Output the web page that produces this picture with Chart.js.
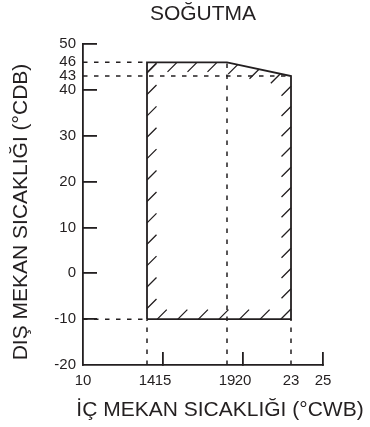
<!DOCTYPE html>
<html>
<head>
<meta charset="utf-8">
<script src="https://cdn.jsdelivr.net/npm/chart.js@4"></script>
<style>
  html, body { margin: 0; padding: 0; background: #fff; }
  canvas { display: block; }
</style>
</head>
<body>
<canvas id="chart" width="370" height="427"></canvas>
<script>
// operating range outline (indoor °CWB, outdoor °CDB), closed polygon
const coolIndoor = [14, 14, 19, 23, 23, 14];
const coolOutdoor = [-10, 46, 46, 43, -10, -10];

// dashed guide lines
const guideHorizontal = [
    { y: 46, from: 10, to: 14 },
    { y: 43, from: 10, to: 23 },
    { y: -10, from: 10, to: 14 },
];
const guideVertical = [
    { x: 14, from: -20, to: -10 },
    { x: 19, from: -20, to: 46 },
    { x: 23, from: -20, to: -10 },
];

const xTicks = [10, 14, 15, 19, 20, 23, 25];
const yTicks = [-20, -10, 0, 10, 20, 30, 40, 43, 46, 50];
const xTickMarks = [15, 20, 25];
const yTickMarks = [-10, 0, 10, 20, 30, 40, 50];

const titleText = "SOĞUTMA";
const xTitleText = "İÇ MEKAN SICAKLIĞI (°CWB)";
const yTitleText = "DIŞ MEKAN SICAKLIĞI (°CDB)";

const ink = "#231f20";
const fontFamily = "'Liberation Sans', Arial, sans-serif";
const HATCH_GAP = 21;
const HATCH_LEN = 9.5;

const guideDatasets = [
    ...guideHorizontal.map((g) => ({
        data: [{ x: g.from, y: g.y }, { x: g.to, y: g.y }],
    })),
    ...guideVertical.map((g) => ({
        data: [{ x: g.x, y: g.from }, { x: g.x, y: g.to }],
    })),
].map((d) => ({
    ...d,
    showLine: true,
    borderColor: ink,
    borderWidth: 1.5,
    borderDash: [4.5, 6.5],
    pointRadius: 0,
    order: 2,
}));

// short diagonal strokes along the inside of the outline
const hatchPlugin = {
    id: "hatch",
    afterDatasetsDraw(chart) {
        const { ctx, scales: { x, y } } = chart;
        const pts = coolIndoor.map((v, i) => ({
            px: x.getPixelForValue(v),
            py: y.getPixelForValue(coolOutdoor[i]),
        }));
        const inner = pts.slice(0, -1);
        const cx = inner.reduce((s, p) => s + p.px, 0) / inner.length;
        const cy = inner.reduce((s, p) => s + p.py, 0) / inner.length;

        ctx.save();
        ctx.strokeStyle = ink;
        ctx.lineWidth = 1.3;
        ctx.beginPath();
        for (let i = 0; i < pts.length - 1; i++) {
            const a = pts[i], b = pts[i + 1];
            const dx = b.px - a.px, dy = b.py - a.py;
            const len = Math.hypot(dx, dy);
            const n = Math.max(1, Math.round(len / HATCH_GAP));
            let nx = -dy / len, ny = dx / len;
            const mx = (a.px + b.px) / 2, my = (a.py + b.py) / 2;
            if ((cx - mx) * nx + (cy - my) * ny < 0) {
                nx = -nx;
                ny = -ny;
            }
            const s = nx - ny > 0 ? 1 : -1;
            for (let k = 0; k < n; k++) {
                const t = (k + 0.5) / n;
                const px = a.px + dx * t, py = a.py + dy * t;
                ctx.moveTo(px, py);
                ctx.lineTo(px + s * HATCH_LEN, py - s * HATCH_LEN);
            }
        }
        ctx.stroke();
        ctx.restore();
    },
};

// axis titles, placed like the original drawing
const axisTitlePlugin = {
    id: "axisTitles",
    afterDraw(chart) {
        const { ctx } = chart;
        ctx.save();
        ctx.fillStyle = ink;
        ctx.font = "21px " + fontFamily;
        ctx.textAlign = "center";
        ctx.textBaseline = "middle";
        ctx.fillText(xTitleText, 220, 410);
        ctx.translate(21, 212);
        ctx.rotate(-Math.PI / 2);
        ctx.fillText(yTitleText, 0, 0);
        ctx.restore();
    },
};

const tickColor = (marks) => (c) =>
    c.tick && marks.includes(c.tick.value) ? ink : "rgba(0,0,0,0)";

new Chart(document.getElementById("chart"), {
    type: "scatter",
    data: {
        datasets: [
            {
                data: coolIndoor.map((v, i) => ({ x: v, y: coolOutdoor[i] })),
                showLine: true,
                borderColor: ink,
                borderWidth: 1.8,
                pointRadius: 0,
                order: 1,
            },
            ...guideDatasets,
        ],
    },
    options: {
        responsive: false,
        animation: false,
        layout: {
            padding: { left: 0, right: 47, top: 0, bottom: 0 },
        },
        scales: {
            x: {
                type: "linear",
                min: 10,
                max: 25,
                afterBuildTicks: (scale) => {
                    scale.ticks = xTicks.map((v) => ({ value: v }));
                },
                afterFit: (scale) => {
                    scale.height = 62;
                },
                border: { color: ink, width: 1.8 },
                grid: {
                    drawOnChartArea: false,
                    tickLength: -13,
                    lineWidth: 1.8,
                    color: tickColor(xTickMarks),
                },
                ticks: {
                    autoSkip: false,
                    maxRotation: 0,
                    padding: 20,
                    color: ink,
                    font: { family: fontFamily, size: 15 },
                },
            },
            y: {
                type: "linear",
                min: -20,
                max: 50,
                afterBuildTicks: (scale) => {
                    scale.ticks = yTicks.map((v) => ({ value: v }));
                },
                afterFit: (scale) => {
                    scale.width = 83;
                },
                border: { color: ink, width: 1.8 },
                grid: {
                    drawOnChartArea: false,
                    tickLength: -14,
                    lineWidth: 1.8,
                    color: tickColor(yTickMarks),
                },
                ticks: {
                    autoSkip: false,
                    padding: 21,
                    color: ink,
                    font: { family: fontFamily, size: 15 },
                },
            },
        },
        plugins: {
            legend: { display: false },
            tooltip: { enabled: false },
            title: {
                display: true,
                text: titleText,
                fullSize: false,
                color: ink,
                font: { family: fontFamily, size: 21, weight: "normal" },
                padding: { top: 2, bottom: 16.8 },
            },
        },
    },
    plugins: [hatchPlugin, axisTitlePlugin],
});
</script>
</body>
</html>
